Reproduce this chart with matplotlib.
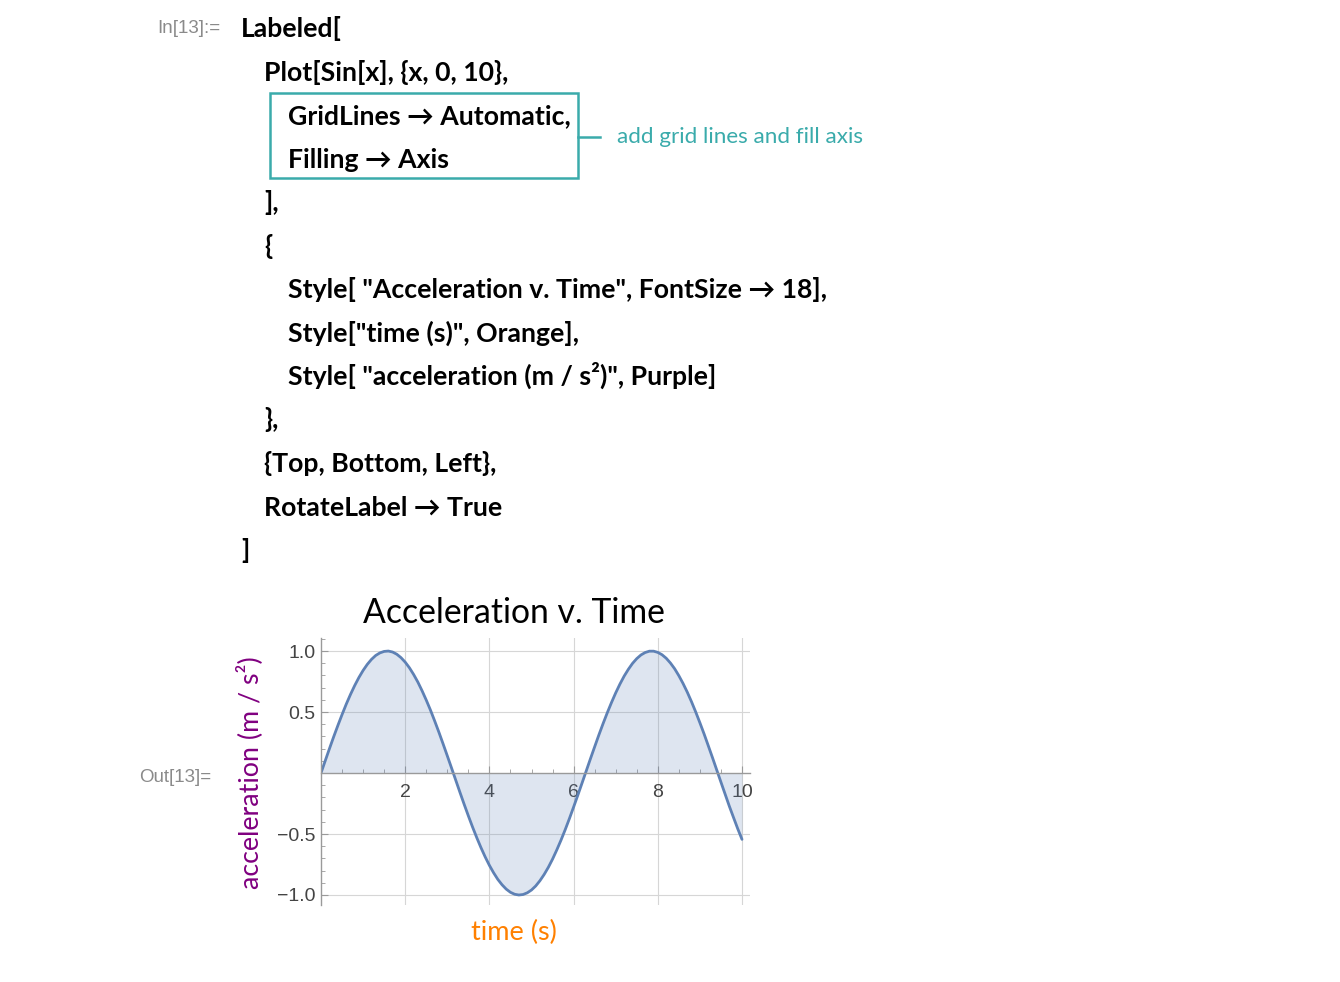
import matplotlib as mpl
mpl.use('Agg')
import matplotlib.pyplot as plt
from matplotlib.patches import Rectangle
from matplotlib.lines import Line2D
from matplotlib.ticker import MultipleLocator

# ----------------------------------------------------------------------------------------------------------------------
# data read off the picture: Sin[x] sampled every 0.1 s
time_s = [0.0, 0.1, 0.2, 0.3, 0.4, 0.5, 0.6, 0.7, 0.8, 0.9,
          1.0, 1.1, 1.2, 1.3, 1.4, 1.5, 1.6, 1.7, 1.8, 1.9,
          2.0, 2.1, 2.2, 2.3, 2.4, 2.5, 2.6, 2.7, 2.8, 2.9,
          3.0, 3.1, 3.2, 3.3, 3.4, 3.5, 3.6, 3.7, 3.8, 3.9,
          4.0, 4.1, 4.2, 4.3, 4.4, 4.5, 4.6, 4.7, 4.8, 4.9,
          5.0, 5.1, 5.2, 5.3, 5.4, 5.5, 5.6, 5.7, 5.8, 5.9,
          6.0, 6.1, 6.2, 6.3, 6.4, 6.5, 6.6, 6.7, 6.8, 6.9,
          7.0, 7.1, 7.2, 7.3, 7.4, 7.5, 7.6, 7.7, 7.8, 7.9,
          8.0, 8.1, 8.2, 8.3, 8.4, 8.5, 8.6, 8.7, 8.8, 8.9,
          9.0, 9.1, 9.2, 9.3, 9.4, 9.5, 9.6, 9.7, 9.8, 9.9,
          10.0]
accel = [0.000, 0.100, 0.199, 0.296, 0.389, 0.479, 0.565, 0.644, 0.717, 0.783,
         0.841, 0.891, 0.932, 0.964, 0.985, 0.997, 1.000, 0.992, 0.974, 0.946,
         0.909, 0.863, 0.808, 0.746, 0.675, 0.598, 0.516, 0.427, 0.335, 0.239,
         0.141, 0.042, -0.058, -0.158, -0.256, -0.351, -0.443, -0.530, -0.612, -0.688,
         -0.757, -0.818, -0.872, -0.916, -0.952, -0.978, -0.994, -1.000, -0.996, -0.982,
         -0.959, -0.926, -0.883, -0.832, -0.773, -0.706, -0.631, -0.551, -0.465, -0.374,
         -0.279, -0.182, -0.083, 0.017, 0.117, 0.215, 0.312, 0.405, 0.494, 0.578,
         0.657, 0.729, 0.794, 0.850, 0.899, 0.938, 0.968, 0.988, 0.999, 0.999,
         0.989, 0.970, 0.941, 0.902, 0.855, 0.798, 0.734, 0.663, 0.585, 0.501,
         0.412, 0.320, 0.223, 0.125, 0.025, -0.075, -0.174, -0.273, -0.366, -0.458,
         -0.544]

x_ticks = [2, 4, 6, 8, 10]
x_tick_labels = ['2', '4', '6', '8', '10']
y_ticks = [-1.0, -0.5, 0.5, 1.0]
y_tick_labels = ['\u22121.0', '\u22120.5', '0.5', '1.0']

title = 'Acceleration v. Time'
x_label = 'time (s)'
y_label = 'acceleration (m / s\u00b2)'
note = 'add grid lines and fill axis'

code_lines = ['Labeled[',
              'Plot[Sin[x], {x, 0, 10},',
              'GridLines \u2192 Automatic,',
              'Filling \u2192 Axis',
              '],',
              '{',
              'Style[ "Acceleration v. Time", FontSize \u2192 18],',
              'Style["time (s)", Orange],',
              'Style[ "acceleration (m / s\u00b2)", Purple]',
              '},',
              '{Top, Bottom, Left},',
              'RotateLabel \u2192 True',
              ']']
code_indent = [0, 1, 2, 2, 1, 1, 2, 2, 2, 1, 1, 1, 0]

# colours
line_col = '#5e81b5'
teal = '#3aabab'
orange = '#ff8000'
purple = '#800080'
axis_col = '#9a9a9a'
label_col = '#444444'
sans = ['Lato', 'DejaVu Sans']
helv = ['Liberation Sans', 'DejaVu Sans']

W, H = 1340, 982
fig = plt.figure(figsize=(W / 100, H / 100), dpi=100)

# pixel-coordinate canvas for the notebook text
bg = fig.add_axes([0, 0, 1, 1])
bg.set_xlim(0, W)
bg.set_ylim(H, 0)
bg.axis('off')

bg.text(220, 28, 'In[13]:=', ha='right', va='center', fontsize=13.5, color='#8a8a8a', family=helv)
bg.text(211, 777, 'Out[13]=', ha='right', va='center', fontsize=13.5, color='#8a8a8a', family=helv)

x0 = 241
step_x = 23.5
y0 = 37
step_y = 43.5
for i, (line, ind) in enumerate(zip(code_lines, code_indent)):
    bg.text(x0 + ind * step_x, y0 + i * step_y, line, ha='left', va='baseline',
            fontsize=19.2, fontweight='bold', color='black', family=sans)

# annotation box
bg.add_patch(Rectangle((270, 93), 308, 85, fill=False, edgecolor=teal, lw=1.8))
bg.add_line(Line2D([578, 600], [137, 137], color=teal, lw=1.8))
bg.text(617, 137, note, ha='left', va='center', fontsize=16.2, color=teal, family=sans)

# labels round the plot
bg.text(514, 613, title, ha='center', va='center', fontsize=24.3, color='black', family=sans)
bg.text(514, 932, x_label, ha='center', va='center', fontsize=19.5, color=orange, family=sans)
bg.text(250, 773, y_label, ha='center', va='center', rotation=90, fontsize=19.3, color=purple, family=sans)

# ----------------------------------------------------------------------------------------------------------------------
# the plot itself
ax = fig.add_axes([321 / W, 1 - 905 / H, (750 - 321) / W, (905 - 638) / H])
ax.set_xlim(0, 10.19)
ax.set_ylim(-1.082, 1.107)
ax.patch.set_alpha(0)

ax.fill_between(time_s, accel, 0, color=line_col, alpha=0.2, lw=0)
ax.plot(time_s, accel, color=line_col, lw=2, solid_capstyle='round')

ax.spines['top'].set_visible(False)
ax.spines['right'].set_visible(False)
ax.spines['bottom'].set_position(('data', 0))
ax.spines['left'].set_position(('data', 0))
for s in ['bottom', 'left']:
    ax.spines[s].set_color(axis_col)
    ax.spines[s].set_linewidth(1)

ax.set_xticks(x_ticks)
ax.set_xticklabels(x_tick_labels)
ax.set_yticks(y_ticks)
ax.set_yticklabels(y_tick_labels)
ax.xaxis.set_minor_locator(MultipleLocator(0.5))
ax.yaxis.set_minor_locator(MultipleLocator(0.1))
ax.tick_params(which='major', direction='in', length=5, width=0.8, color=axis_col,
               labelsize=14, labelcolor=label_col)
ax.tick_params(which='minor', direction='in', length=3, width=0.6, color=axis_col)
ax.tick_params(axis='x', pad=8)
ax.tick_params(axis='y', pad=4)
for lab in ax.get_xticklabels() + ax.get_yticklabels():
    lab.set_family(helv)

ax.grid(True, which='major', color='#d6d6d6', lw=0.8)
ax.set_axisbelow(True)

fig.savefig('out.png', dpi=100)
